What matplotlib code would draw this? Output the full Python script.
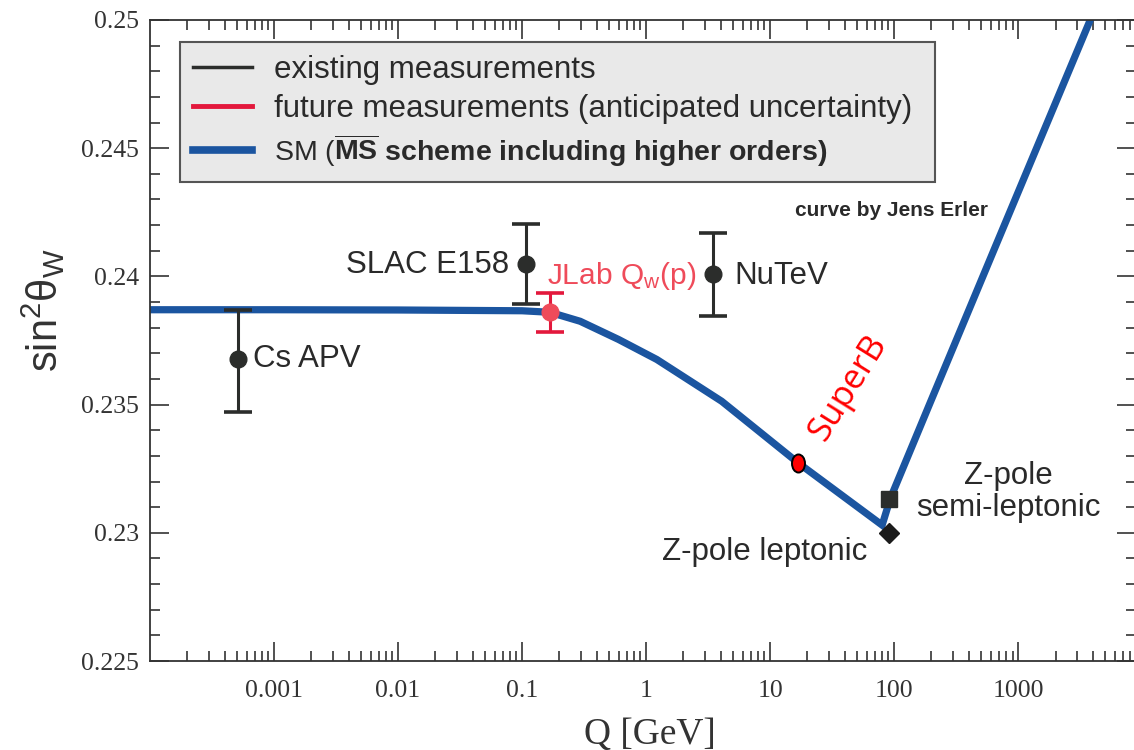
import matplotlib
matplotlib.use("Agg")
import matplotlib.pyplot as plt
from matplotlib.lines import Line2D
from matplotlib.path import Path
from matplotlib.transforms import Affine2D

plt.rcParams["font.family"] = ["Liberation Sans", "DejaVu Sans"]
plt.rcParams["mathtext.fontset"] = "custom"
plt.rcParams["mathtext.rm"] = "Liberation Sans"
plt.rcParams["mathtext.bf"] = "Liberation Sans:bold"
plt.rcParams["mathtext.it"] = "Liberation Sans:italic"

# SM running of sin^2(theta_W) (MS-bar)
sm_q = [1e-4, 1e-3, 1e-2, 0.1, 0.168, 0.294, 0.6, 1.22, 4.07, 16.9, 80, 93, 195, 653, 3810]
sm_s2w = [0.23870, 0.23870, 0.23869, 0.23866, 0.23860, 0.23825, 0.23754, 0.23676, 0.23513,
          0.23272, 0.23030, 0.23133, 0.23507, 0.24115, 0.25000]

# existing low-energy measurements
exist_names = ["Cs APV", "SLAC E158", "NuTeV"]
exist_q = [5.1e-4, 0.108, 3.49]
exist_val = [0.23676, 0.24050, 0.24008]
exist_lo = [0.23471, 0.23893, 0.23845]
exist_hi = [0.23868, 0.24203, 0.24171]

# future measurement (anticipated uncertainty)
jlab_q = [0.168]
jlab_val = [0.23862]
jlab_lo = [0.23782]
jlab_hi = [0.23936]

# SuperB and Z-pole points
superb_q = [16.9]
superb_val = [0.23272]
zlep_q = [91.2]
zlep_val = [0.23000]
zsemi_q = [91.2]
zsemi_val = [0.23133]

xtick_vals = [1e-3, 1e-2, 1e-1, 1, 10, 100, 1000]
xtick_labels = ["0.001", "0.01", "0.1", "1", "10", "100", "1000"]
ytick_vals = [0.225, 0.23, 0.235, 0.24, 0.245, 0.25]
ytick_labels = ["0.225", "0.23", "0.235", "0.24", "0.245", "0.25"]

BLUE = "#1b55a0"
DARK = "#2b2d2b"
RED = "#e3183c"
PINK = "#ef4b5a"
TXT = "#2a2a2a"

W, H = 1134, 750
fig = plt.figure(figsize=(W / 100, H / 100), dpi=100)
ax = fig.add_axes([150 / W, 1 - 661 / H, 986 / W, 641 / H])
ax.set_xscale("log")
ax.set_xlim(1e-4, 10 ** 3.95)
ax.set_ylim(0.225, 0.25)

ax.plot(sm_q, sm_s2w, color=BLUE, lw=5.2, zorder=2, solid_joinstyle="miter")

yerr = [[v - lo for v, lo in zip(exist_val, exist_lo)], [hi - v for v, hi in zip(exist_val, exist_hi)]]
ax.errorbar(exist_q, exist_val, yerr=yerr, fmt="o", color=DARK, ms=12, elinewidth=2.2,
            capsize=10, capthick=2.6, zorder=4)

jerr = [[v - lo for v, lo in zip(jlab_val, jlab_lo)], [hi - v for v, hi in zip(jlab_val, jlab_hi)]]
ax.errorbar(jlab_q, jlab_val, yerr=jerr, fmt="none", ecolor=RED, elinewidth=2.2,
            capsize=10, capthick=2.6, zorder=4)
ax.plot(jlab_q, jlab_val, "o", color=PINK, ms=12, zorder=5)

ellipse = Path.unit_circle().transformed(Affine2D().scale(0.72, 1.0))
ax.plot(superb_q, superb_val, marker=ellipse, ls="none", ms=13, mfc="#ff0000", mec="black",
        mew=1.4, zorder=5)
ax.plot(zlep_q, zlep_val, "D", color="#1b1b1b", ms=10, zorder=5)
ax.plot(zsemi_q, zsemi_val, "s", color=DARK, ms=11, zorder=5)

fs = 22.5
ax.annotate(exist_names[0], (exist_q[0], exist_val[0]), xytext=(11, 0), textcoords="offset points",
            ha="left", va="center", fontsize=fs, color=TXT)
ax.annotate(exist_names[1], (exist_q[1], exist_val[1]), xytext=(-12, -1), textcoords="offset points",
            ha="right", va="center", fontsize=fs, color=TXT)
ax.annotate(exist_names[2], (exist_q[2], exist_val[2]), xytext=(15, -1), textcoords="offset points",
            ha="left", va="center", fontsize=fs, color=TXT)
ax.annotate(r"JLab Q$_\mathregular{w}$(p)", (jlab_q[0], jlab_val[0]), xytext=(-2, 26),
            textcoords="offset points", ha="left", va="center", fontsize=21.5, color=PINK)
ax.annotate("SuperB", (superb_q[0], superb_val[0]), xytext=(36, 54), textcoords="offset points",
            ha="center", va="center", fontsize=25, color="#ff0000", rotation=58,
            family=["Open Sans", "DejaVu Sans"])
ax.annotate("Z-pole leptonic", (zlep_q[0], zlep_val[0]), xytext=(-16, -14), textcoords="offset points",
            ha="right", va="center", fontsize=fs, color=TXT)
ax.annotate("Z-pole\nsemi-leptonic", (zsemi_q[0], zsemi_val[0]), xytext=(86, 5),
            textcoords="offset points", ha="center", va="center", fontsize=fs, color=TXT,
            linespacing=1.1)
ax.text((795 - 150) / 986, (661 - 210) / 641, "curve by Jens Erler", transform=ax.transAxes,
        ha="left", va="center", fontsize=15, fontweight="bold", color=TXT)

handles = [Line2D([], [], color=DARK, lw=2.5), Line2D([], [], color=RED, lw=3.5),
           Line2D([], [], color=BLUE, lw=5.5)]
labels = ["existing measurements", "future measurements (anticipated uncertainty)",
          r"SM ($\overline{\mathbf{MS}}$ $\mathbf{scheme\ including\ higher\ orders)}$"]
x0 = (180 - 150) / 986
y_top = (661 - 42) / 641
leg_h = (172 - 42) / 641
leg = ax.legend(handles, labels, loc="upper left", mode="expand",
                bbox_to_anchor=(x0, y_top - leg_h, (935 - 180) / 986, leg_h),
                fontsize=22.5, frameon=True, fancybox=False, facecolor="#e9e9e9", edgecolor="#555555",
                framealpha=1, handlelength=1.9, handletextpad=0.7, labelspacing=0.3,
                borderpad=0.4, borderaxespad=0)
leg.get_frame().set_linewidth(1.5)
for t in leg.get_texts():
    t.set_color(TXT)
leg.get_texts()[2].set_fontsize(20.5)

ax.set_xticks(xtick_vals, xtick_labels)
ax.set_yticks(ytick_vals, ytick_labels)
ax.minorticks_on()
ax.yaxis.set_minor_locator(matplotlib.ticker.MultipleLocator(0.001))
ax.tick_params(which="both", direction="in", top=True, right=True, colors="#333333", width=1.2)
ax.tick_params(which="major", length=13.5)
ax.tick_params(which="minor", length=7)
ax.tick_params(axis="x", which="major", pad=14)
ax.tick_params(axis="y", which="major", pad=8)
for lab in ax.get_xticklabels() + ax.get_yticklabels():
    lab.set_family(["Liberation Serif", "DejaVu Serif"])
    lab.set_fontsize(18.5)
    lab.set_color("#333333")
for sp in ax.spines.values():
    sp.set_color("#333333")
    sp.set_linewidth(1.3)

fig.text(650 / W, 1 - 735 / H, "Q [GeV]", ha="center", va="center", fontsize=27,
         family=["Liberation Serif", "DejaVu Serif"], color="#333333")
fig.text(43 / W, 1 - 310 / H, "sin$^\\mathregular{2}$θ$_\\mathregular{W}$", ha="center", va="center",
         rotation=90, fontsize=30, color="#333333")

fig.savefig("out.png", dpi=100)
